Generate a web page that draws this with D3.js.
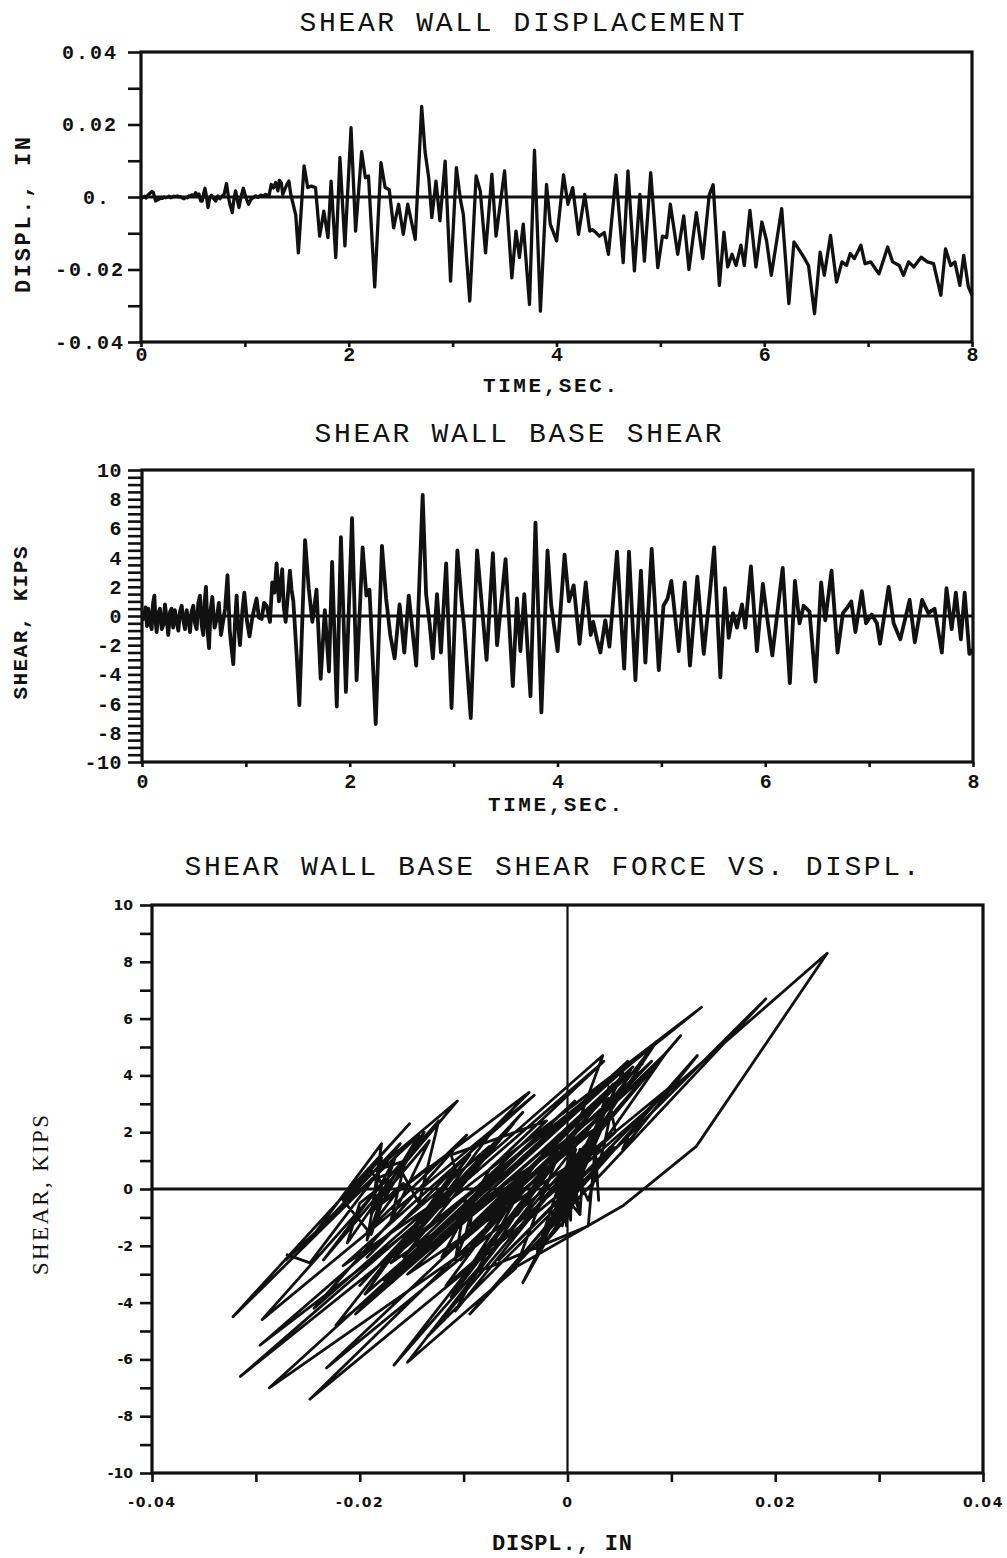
<!DOCTYPE html>
<html>
<head>
<meta charset="utf-8">
<script src="https://cdn.jsdelivr.net/npm/d3@7"></script>
<style>
  body { margin: 0; background: #fff; }
  svg { display: block; }
</style>
</head>
<body>
<div class="canvas"></div>
<script>
// shear wall record : time, displacement, base shear
const timeSec = [
  0.000, 0.013, 0.035, 0.048, 0.061, 0.077, 0.093, 0.105, 0.119, 0.130,
  0.141, 0.157, 0.173, 0.190, 0.205, 0.221, 0.237, 0.253, 0.270, 0.285,
  0.300, 0.317, 0.334, 0.350, 0.366, 0.382, 0.398, 0.414, 0.430, 0.446,
  0.462, 0.478, 0.494, 0.510, 0.526, 0.542, 0.558, 0.574, 0.590, 0.603,
  0.616, 0.630, 0.645, 0.660, 0.677, 0.698, 0.719, 0.740, 0.760, 0.780,
  0.800, 0.823, 0.845, 0.856, 0.879, 0.895, 0.911, 0.925, 0.943, 0.967,
  0.985, 1.010, 1.035, 1.060, 1.080, 1.103, 1.125, 1.152, 1.175, 1.200,
  1.232, 1.254, 1.275, 1.296, 1.318, 1.332, 1.350, 1.365, 1.383, 1.405,
  1.424, 1.440, 1.457, 1.490, 1.515, 1.570, 1.605, 1.640, 1.680, 1.720,
  1.760, 1.800, 1.830, 1.875, 1.915, 1.963, 2.022, 2.066, 2.124, 2.160,
  2.190, 2.250, 2.310, 2.350, 2.390, 2.432, 2.480, 2.525, 2.568, 2.640,
  2.702, 2.735, 2.770, 2.800, 2.840, 2.878, 2.928, 2.980, 3.036, 3.077, 3.103,
  3.165, 3.226, 3.266, 3.317, 3.378, 3.418, 3.500, 3.570, 3.610, 3.643,
  3.680, 3.740, 3.788, 3.845, 3.904, 3.940, 4.001, 4.068, 4.110, 4.156,
  4.212, 4.272, 4.320, 4.344, 4.380, 4.413, 4.460, 4.500, 4.573, 4.642,
  4.688, 4.750, 4.803, 4.846, 4.907, 4.975, 5.020, 5.060, 5.096, 5.167,
  5.225, 5.275, 5.346, 5.408, 5.470, 5.508, 5.568, 5.612, 5.648, 5.690,
  5.728, 5.776, 5.808, 5.862, 5.920, 5.977, 6.022, 6.068, 6.168, 6.237,
  6.286, 6.330, 6.370, 6.426, 6.484, 6.538, 6.578, 6.638, 6.696, 6.748,
  6.792, 6.828, 6.868, 6.930, 6.970, 7.025, 7.075, 7.105, 7.188, 7.236,
  7.300, 7.340, 7.390, 7.440, 7.510, 7.570, 7.630, 7.700, 7.745, 7.795,
  7.835, 7.883, 7.920, 7.965, 8.000
];
const displIn = [
  0.0000, -0.0002, 0.0002, -0.0003, 0.0003, 0.0008, 0.0012, 0.0015, 0.0012, 0.0000,
  -0.0011, -0.0008, -0.0006, -0.0003, -0.0004, 0.0000, -0.0002, -0.0001, 0.0002, -0.0002,
  0.0000, 0.0002, 0.0001, 0.0003, 0.0000, 0.0001, -0.0003, -0.0005, -0.0001, -0.0002,
  0.0003, 0.0004, 0.0006, 0.0003, 0.0012, 0.0004, 0.0008, -0.0011, -0.0011, 0.0010,
  0.0024, 0.0002, -0.0029, -0.0006, 0.0005, -0.0004, -0.0011, 0.0003, -0.0005, 0.0002,
  0.0007, 0.0037, -0.0005, -0.0020, -0.0043, -0.0005, 0.0017, -0.0005, -0.0029, 0.0005,
  0.0024, -0.0002, -0.0020, -0.0006, -0.0002, 0.0003, -0.0001, 0.0005, 0.0003, 0.0007,
  0.0003, 0.0035, 0.0025, 0.0040, 0.0017, 0.0046, 0.0040, 0.0007, 0.0020, 0.0035,
  0.0044, 0.0010, -0.0011, -0.0050, -0.0154, 0.0086, 0.0026, 0.0030, 0.0026, -0.0108,
  -0.0039, -0.0112, 0.0044, -0.0167, 0.0109, -0.0135, 0.0191, -0.0094, 0.0125, 0.0053,
  0.0058, -0.0248, 0.0095, 0.0026, 0.0020, -0.0085, -0.0020, -0.0103, -0.0020, -0.0117,
  0.0250, 0.0124, 0.0053, -0.0057, 0.0044, -0.0066, 0.0099, -0.0232, 0.0081, -0.0010, -0.0048,
  -0.0287, 0.0058, 0.0017, -0.0154, 0.0063, -0.0108, 0.0072, -0.0223, -0.0094, -0.0167,
  -0.0075, -0.0296, 0.0129, -0.0315, 0.0035, -0.0075, -0.0121, 0.0061, -0.0020, 0.0026,
  -0.0103, 0.0007, -0.0094, -0.0090, -0.0098, -0.0108, -0.0098, -0.0158, 0.0060, -0.0181,
  0.0072, -0.0204, 0.0007, -0.0177, 0.0067, -0.0195, -0.0108, -0.0112, -0.0020, -0.0158,
  -0.0052, -0.0200, -0.0043, -0.0170, 0.0005, 0.0034, -0.0244, -0.0097, -0.0193, -0.0158,
  -0.0189, -0.0133, -0.0189, -0.0037, -0.0193, -0.0069, -0.0120, -0.0216, -0.0032, -0.0294,
  -0.0124, -0.0143, -0.0161, -0.0189, -0.0322, -0.0152, -0.0216, -0.0106, -0.0235, -0.0179,
  -0.0189, -0.0156, -0.0170, -0.0133, -0.0184, -0.0179, -0.0200, -0.0212, -0.0138, -0.0179,
  -0.0189, -0.0216, -0.0179, -0.0193, -0.0166, -0.0179, -0.0184, -0.0271, -0.0143, -0.0189,
  -0.0179, -0.0244, -0.0161, -0.0248, -0.0271
];
const shearKips = [
  0.0, -0.2, 0.6, -0.7, 0.5, -0.4, -0.9, 0.8, 1.4, -0.3,
  -1.1, 0.2, 0.5, -0.9, -0.6, 0.8, -0.2, -1.3, 0.3, 0.5,
  -0.8, 0.4, -0.4, -1.0, 0.3, 0.7, -0.3, -0.9, 0.4, -0.2,
  -1.1, 0.3, 0.7, -0.5, -0.9, 0.9, 1.4, -0.6, -1.3, 1.0,
  2.0, -0.9, -2.2, 0.4, 1.3, -0.8, -0.2, 0.9, -1.3, -0.4,
  0.5, 2.8, -1.0, -1.8, -3.3, -0.5, 1.4, -0.6, -2.0, 0.4,
  1.6, -0.3, -1.4, -0.2, 0.5, 1.2, -0.1, -0.2, 0.9, 0.7,
  -0.4, 2.3, 1.6, 3.6, 1.0, 2.0, 3.2, 0.6, -0.4, 1.5,
  3.1, 1.8, 1.0, -2.8, -6.1, 5.2, 1.9, -0.4, 1.8, -4.3,
  0.4, -3.8, 3.7, -6.2, 5.4, -5.2, 6.7, -4.4, 4.7, 1.4,
  1.8, -7.4, 4.8, 1.2, -1.3, -2.9, 0.8, -2.5, 1.4, -3.4,
  8.3, 1.5, -0.6, -2.9, 1.5, -2.5, 3.6, -6.3, 4.5, 1.0, -0.9,
  -7.0, 4.5, 1.2, -3.0, 4.3, -2.0, 3.9, -4.8, 1.2, -2.4,
  1.5, -5.5, 6.4, -6.6, 4.5, 0.7, -2.4, 4.2, 1.0, 2.1,
  -1.9, 2.3, -1.3, -0.4, -1.6, -2.5, -0.3, -2.1, 4.4, -3.6,
  4.4, -4.4, 3.1, -3.2, 4.6, -3.7, 0.7, 1.2, 2.4, -2.4,
  2.3, -3.4, 2.7, -2.6, 1.8, 4.7, -4.2, 1.9, -1.5, 0.2,
  -0.8, 0.8, -0.8, 3.4, -2.4, 2.2, -0.3, -2.7, 3.3, -4.6,
  2.4, -0.5, 0.7, 0.3, -4.5, 2.3, -0.3, 3.1, -2.5, 0.2,
  0.6, 1.0, -1.1, 1.7, -0.5, 0.1, -0.5, -1.9, 2.0, -0.5,
  -1.6, -0.4, 1.1, -1.8, 1.1, 0.2, 0.5, -2.5, 1.9, -0.9,
  1.6, -1.6, 1.6, -2.6, -2.3
];

// tick values
const timeTicks = [0, 2, 4, 6, 8];
const timeMinor = [0, 1, 2, 3, 4, 5, 6, 7, 8];
const displTicks = [-0.04, -0.02, 0, 0.02, 0.04];
const displMinor = [-0.04, -0.03, -0.02, -0.01, 0, 0.01, 0.02, 0.03, 0.04];
const shearTicks = [-10, -8, -6, -4, -2, 0, 2, 4, 6, 8, 10];

const width = 1007;
const height = 1558;
const ink = "#111";
const mono = "'Courier New', 'Liberation Mono', monospace";

const records = timeSec.map((t, i) => ({ t: t, d: displIn[i], s: shearKips[i] }));

const svg = d3.select(".canvas").append("svg")
  .attr("width", width)
  .attr("height", height);

svg.append("rect").attr("width", width).attr("height", height).attr("fill", "#fff");

function range(a, b, step) {
  return d3.range(Math.round((b - a) / step) + 1).map(i => +(a + i * step).toFixed(4));
}

// box round the plot area
function frame(x, y, w) {
  const [x0, x1] = x.range();
  const [y0, y1] = y.range();
  svg.append("rect")
    .attr("x", x0).attr("y", y1)
    .attr("width", x1 - x0).attr("height", y0 - y1)
    .attr("fill", "none").attr("stroke", ink).attr("stroke-width", w);
}

function styleAxis(g) {
  g.select(".domain").remove();
  g.selectAll("line").attr("stroke", ink).attr("stroke-width", 2.6);
}

function text(str, x, y, opts) {
  const t = svg.append("text")
    .attr("x", x).attr("y", y)
    .attr("text-anchor", "middle")
    .attr("font-family", opts.font || mono)
    .attr("font-size", opts.size)
    .attr("font-weight", opts.weight || "normal")
    .attr("fill", ink)
    .text(str);
  if (opts.len) t.attr("textLength", opts.len).attr("lengthAdjust", opts.adjust || "spacing");
  if (opts.rotate) t.attr("transform", `rotate(-90, ${x}, ${y})`);
  return t;
}

// ---------- panel 1 : displacement vs time ----------
const x1 = d3.scaleLinear().domain([0, 8]).range([141, 972]);
const y1 = d3.scaleLinear().domain([-0.04, 0.04]).range([342, 52]);

svg.append("line")
  .attr("x1", x1(0)).attr("x2", x1(8)).attr("y1", y1(0)).attr("y2", y1(0))
  .attr("stroke", ink).attr("stroke-width", 3);

svg.append("path")
  .datum(records)
  .attr("fill", "none").attr("stroke", ink).attr("stroke-width", 3.3)
  .attr("stroke-linejoin", "round")
  .attr("d", d3.line().x(d => x1(d.t)).y(d => y1(d.d)));

frame(x1, y1, 3.2);

svg.append("g").attr("transform", `translate(${x1(0)},0)`)
  .call(d3.axisLeft(y1).tickValues(displMinor).tickSize(13).tickFormat(""))
  .call(styleAxis);
svg.append("g").attr("transform", `translate(${x1(0)},0)`)
  .call(d3.axisLeft(y1).tickValues(displTicks).tickSize(0)
    .tickFormat(d => d === 0 ? "0." : d.toFixed(2)))
  .call(g => g.select(".domain").remove())
  .call(g => g.selectAll("text")
    .attr("x", d => d === 0 ? -44 : -51).attr("text-anchor", "middle")
    .attr("font-family", mono).attr("font-size", 20).attr("font-weight", "bold")
    .attr("letter-spacing", 2).attr("fill", ink));

svg.append("g").attr("transform", `translate(0,${y1(-0.04)})`)
  .call(d3.axisBottom(x1).tickValues(timeMinor).tickSize(5).tickFormat(""))
  .call(styleAxis);
svg.append("g").attr("transform", `translate(0,${y1(-0.04)})`)
  .call(d3.axisBottom(x1).tickValues(timeTicks).tickSize(0).tickPadding(5))
  .call(g => g.select(".domain").remove())
  .call(g => g.selectAll("text")
    .attr("font-family", mono).attr("font-size", 20).attr("font-weight", "bold").attr("fill", ink));

text("SHEAR WALL DISPLACEMENT", 522, 31, { size: 28, len: 445 });
text("TIME,SEC.", 550, 392, { size: 21, weight: "bold", len: 134 });
text("DISPL., IN", 30, 215, { size: 22, weight: "bold", len: 156, rotate: true });

// ---------- panel 2 : base shear vs time ----------
const x2 = d3.scaleLinear().domain([0, 8]).range([142, 973]);
const y2 = d3.scaleLinear().domain([-10, 10]).range([762, 470]);

svg.append("line")
  .attr("x1", x2(0)).attr("x2", x2(8)).attr("y1", y2(0)).attr("y2", y2(0))
  .attr("stroke", ink).attr("stroke-width", 3);

svg.append("path")
  .datum(records)
  .attr("fill", "none").attr("stroke", ink).attr("stroke-width", 3.8)
  .attr("stroke-linejoin", "round")
  .attr("d", d3.line().x(d => x2(d.t)).y(d => y2(d.s)));

frame(x2, y2, 3.2);

svg.append("g").attr("transform", `translate(${x2(0)},0)`)
  .call(d3.axisLeft(y2).tickValues(range(-10, 10, 0.5)).tickSize(14).tickFormat(""))
  .call(styleAxis);
svg.append("g").attr("transform", `translate(${x2(0)},0)`)
  .call(d3.axisLeft(y2).tickValues(shearTicks).tickSize(0).tickFormat(d => String(d)))
  .call(g => g.select(".domain").remove())
  .call(g => g.selectAll("text")
    .attr("x", -20)
    .attr("font-family", mono).attr("font-size", 20).attr("font-weight", "bold")
    .attr("letter-spacing", 0.5).attr("fill", ink));

svg.append("g").attr("transform", `translate(0,${y2(-10)})`)
  .call(d3.axisBottom(x2).tickValues(timeMinor).tickSize(5).tickFormat(""))
  .call(styleAxis);
svg.append("g").attr("transform", `translate(0,${y2(-10)})`)
  .call(d3.axisBottom(x2).tickValues(timeTicks).tickSize(0).tickPadding(12))
  .call(g => g.select(".domain").remove())
  .call(g => g.selectAll("text")
    .attr("font-family", mono).attr("font-size", 20).attr("font-weight", "bold").attr("fill", ink));

text("SHEAR WALL BASE SHEAR", 518, 442, { size: 28, len: 407 });
text("TIME,SEC.", 555, 811, { size: 21, weight: "bold", len: 134 });
text("SHEAR, KIPS", 27, 623, { size: 21, weight: "bold", len: 153, rotate: true });

// ---------- panel 3 : base shear vs displacement ----------
const x3 = d3.scaleLinear().domain([-0.04, 0.04]).range([152, 983]);
const y3 = d3.scaleLinear().domain([-10, 10]).range([1473, 905]);

svg.append("line")
  .attr("x1", x3(-0.04)).attr("x2", x3(0.04)).attr("y1", y3(0)).attr("y2", y3(0))
  .attr("stroke", ink).attr("stroke-width", 3);
svg.append("line")
  .attr("x1", x3(0)).attr("x2", x3(0)).attr("y1", y3(-10)).attr("y2", y3(10))
  .attr("stroke", ink).attr("stroke-width", 2.2);

svg.append("path")
  .datum(records)
  .attr("fill", "none").attr("stroke", ink).attr("stroke-width", 2.8)
  .attr("stroke-linejoin", "round")
  .attr("d", d3.line().x(d => x3(d.d)).y(d => y3(d.s)));

frame(x3, y3, 3.2);

svg.append("g").attr("transform", `translate(${x3(-0.04)},0)`)
  .call(d3.axisLeft(y3).tickValues(range(-10, 10, 1)).tickSize(12).tickFormat(""))
  .call(styleAxis);
svg.append("g").attr("transform", `translate(${x3(-0.04)},0)`)
  .call(d3.axisLeft(y3).tickValues(shearTicks).tickSize(0).tickFormat(d => String(d)))
  .call(g => g.select(".domain").remove())
  .call(g => g.selectAll("text")
    .attr("x", -19)
    .attr("font-family", "'DejaVu Sans', sans-serif").attr("font-size", 14).attr("font-weight", "bold")
    .attr("fill", ink));

svg.append("g").attr("transform", `translate(0,${y3(-10)})`)
  .call(d3.axisBottom(x3).tickValues(displMinor).tickSize(9).tickFormat(""))
  .call(styleAxis);
svg.append("g").attr("transform", `translate(0,${y3(-10)})`)
  .call(d3.axisBottom(x3).tickValues(displTicks).tickSize(0).tickPadding(24)
    .tickFormat(d => d === 0 ? "0" : d.toFixed(2)))
  .call(g => g.select(".domain").remove())
  .call(g => g.selectAll("text")
    .attr("font-family", "'DejaVu Sans', sans-serif").attr("font-size", 14).attr("font-weight", "bold")
    .attr("letter-spacing", 1.6).attr("fill", ink));

text("SHEAR WALL BASE SHEAR FORCE VS. DISPL.", 552, 875, { size: 28, len: 735 });
text("DISPL., IN", 562, 1550, { size: 22, weight: "bold", len: 140 });
text("SHEAR, KIPS", 48, 1195, { font: "'Liberation Serif', 'Times New Roman', serif", size: 23, len: 160, rotate: true });
</script>
</body>
</html>
